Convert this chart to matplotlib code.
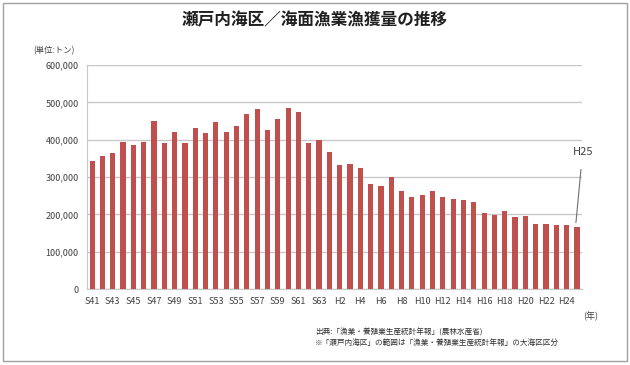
import matplotlib.pyplot as plt
from matplotlib.patches import Rectangle

plt.rcParams['font.family'] = ['Noto Sans CJK JP', 'DejaVu Sans']

# 年 (昭和41年〜平成25年)
years = [f'S{y}' for y in range(41, 64)] + [f'H{y}' for y in range(1, 26)]
# 漁獲量 (トン)
catch = [344000, 356000, 365000, 394000, 387000, 394000, 450000, 392000,
         421000, 390000, 430000, 418000, 447000, 420000, 436000, 469000,
         481000, 427000, 456000, 484000, 474000, 390000, 399000,
         367000, 332000, 334000, 323000, 280000, 275000, 299000, 263000,
         247000, 251000, 263000, 246000, 240000, 238000, 232000, 203000,
         197000, 208000, 192000, 196000, 173000, 175000, 171000, 171000,
         166000]
tick_labels = [y if i % 2 == 0 else '' for i, y in enumerate(years)]

fig = plt.figure(figsize=(6.3, 3.65), dpi=100)
fig.patches.append(Rectangle((0.004, 0.012), 0.991, 0.981, transform=fig.transFigure,
                             fill=False, edgecolor='#a0a0a0', linewidth=1))

ax = fig.add_axes([0.138, 0.208, 0.786, 0.614])
x = range(len(years))
ax.bar(x, catch, width=0.5, color='#C0504D', zorder=3)

ax.set_xlim(-0.5, len(years) - 0.5)
ax.set_ylim(0, 600000)
ax.set_yticks(range(0, 600001, 100000))
ax.set_yticklabels(['0'] + [f'{v:,}' for v in range(100000, 600001, 100000)])
ax.set_xticks(list(x))
ax.set_xticklabels(tick_labels)
ax.tick_params(length=0, labelsize=6.5, colors='#404040', pad=6)
ax.grid(axis='y', color='#c8c8c8', linewidth=1, zorder=0)
for s in ['top', 'right']:
    ax.spines[s].set_visible(False)
ax.spines['left'].set_color('#c8c8c8')
ax.spines['bottom'].set_color('#c8c8c8')

# 最終年の注記
ax.annotate('H25', xy=(len(years) - 1.1, catch[-1] + 12000),
            xytext=(len(years) - 0.45, 367000),
            fontsize=8, color='#404040', ha='center', va='center', annotation_clip=False,
            arrowprops=dict(arrowstyle='-', color='#707070', lw=0.8, shrinkA=7, shrinkB=0))

fig.text(0.5, 0.945, '瀬戸内海区／海面漁業漁獲量の推移', fontsize=12,
         fontweight='bold', ha='center', va='center', color='#202020')
fig.text(0.052, 0.86, '(単位:トン)', fontsize=6, ha='left', va='center', color='#404040')
fig.text(0.925, 0.133, '(年)', fontsize=6.5, ha='left', va='center', color='#404040')
fig.text(0.5, 0.09, '出典:「漁業・養殖業生産統計年報」(農林水産省)', fontsize=5.5,
         ha='left', va='center', color='#303030')
fig.text(0.5, 0.06, '※「瀬戸内海区」の範囲は「漁業・養殖業生産統計年報」の大海区区分',
         fontsize=5.5, ha='left', va='center', color='#303030')

fig.savefig('out.png', dpi=100)
